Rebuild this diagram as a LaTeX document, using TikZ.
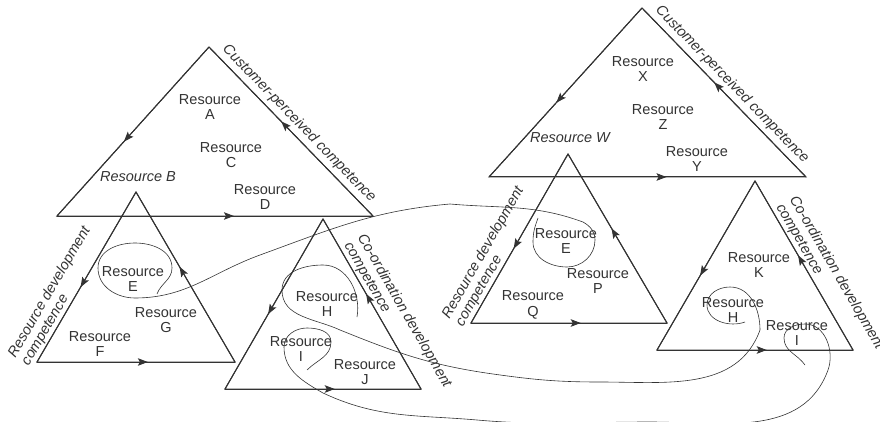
\documentclass[tikz,border=0pt]{standalone}
\usepackage{fontspec}
\setmainfont{Liberation Sans}
\usetikzlibrary{arrows.meta}
\usetikzlibrary{decorations.markings}

\definecolor{ink}{HTML}{333333}

\begin{document}
\begin{tikzpicture}[x=1pt,y=-1pt,
        color=ink, line width=1pt,
        every node/.style = {text=ink, font=\fontsize{14.5}{15.5}\selectfont},
        res/.style = {align=center, inner sep=0pt},
        resit/.style = {res, font=\fontsize{14.5}{15.5}\selectfont\itshape},
        sidelabel/.style = {sloped, align=left, inner sep=1.5pt,
            font=\fontsize{14.5}{15.5}\selectfont\itshape},
        flow/.style = {postaction={decorate}, decoration={markings,
            mark=at position 0.56 with {\arrow{Stealth[length=10pt,width=7.5pt,inset=2pt]}}}},
        link/.style = {line width=0.6pt}]
    \useasboundingbox (0,0) rectangle (880,422);
    % left set
    \coordinate (cp1-top) at (209,47);
    \coordinate (cp1-bl) at (57,216);
    \coordinate (cp1-br) at (373,216);
    \coordinate (rd1-top) at (136,192);
    \coordinate (rd1-bl) at (37,362);
    \coordinate (rd1-br) at (235,362);
    \coordinate (cd1-top) at (323,219);
    \coordinate (cd1-bl) at (225,389);
    \coordinate (cd1-br) at (421,389);
    % right set
    \coordinate (cp2-top) at (642,8);
    \coordinate (cp2-bl) at (489,177);
    \coordinate (cp2-br) at (806,177);
    \coordinate (rd2-top) at (568,154);
    \coordinate (rd2-bl) at (471,323);
    \coordinate (rd2-br) at (667,323);
    \coordinate (cd2-top) at (755,181);
    \coordinate (cd2-bl) at (657,350);
    \coordinate (cd2-br) at (853,350);

    \foreach \t in {cp1,rd1,cd1,cp2,rd2,cd2} {
        \draw (\t-top) -- (\t-bl) -- (\t-br) -- cycle;
        \draw[flow] (\t-top) -- (\t-bl);
        \draw[flow] (\t-bl) -- (\t-br);
        \draw[flow] (\t-br) -- (\t-top);
    }

    \node[res] (cp1-a) at (210,107) {Resource\\A};
    \node[res] (cp1-c) at (231,155) {Resource\\C};
    \node[resit] (cp1-b) at (138,177) {Resource B};
    \node[res] (cp1-d) at (265,197) {Resource\\D};
    \node[res] (rd1-e) at (133,279) {Resource\\E};
    \node[res] (rd1-g) at (166,320) {Resource\\G};
    \node[res] (rd1-f) at (100,344) {Resource\\F};
    \node[res] (cd1-h) at (327,304) {Resource\\H};
    \node[res] (cd1-i) at (301,349) {Resource\\I};
    \node[res] (cd1-j) at (365,372) {Resource\\J};

    \node[res] (cp2-x) at (643,69) {Resource\\X};
    \node[res] (cp2-z) at (663,117) {Resource\\Z};
    \node[resit] (cp2-w) at (570,138) {Resource W};
    \node[res] (cp2-y) at (697,159) {Resource\\Y};
    \node[res] (rd2-e) at (566,241) {Resource\\E};
    \node[res] (rd2-p) at (598,281) {Resource\\P};
    \node[res] (rd2-q) at (533,305) {Resource\\Q};
    \node[res] (cd2-k) at (759,265) {Resource\\K};
    \node[res] (cd2-h) at (733,310) {Resource\\H};
    \node[res] (cd2-i) at (797,333) {Resource\\I};

    \foreach \s in {1,2} {
        \path (cp\s-top) -- (cp\s-br) node[sidelabel, midway, above, inner sep=4pt]
            {Customer-perceived competence};
        \path (rd\s-bl) -- (rd\s-top) node[sidelabel, pos=-0.05, anchor=south west]
            {Resource development\\competence};
        \path (cd\s-top) -- (cd\s-br) node[sidelabel, pos=0.16, anchor=south west]
            {Co-ordination development\\competence};
    }

    \coordinate (e1-in) at (157,294);
    \coordinate (e2-in) at (538,218);
    \coordinate (h1-in) at (357,317);
    \coordinate (h2-in) at (745,322);
    \coordinate (i1-in) at (307,370);
    \coordinate (i2-in) at (805,365);

    \draw[link] (e1-in) to[out=70,in=270] (172,268) to[out=90,in=0] (135,243)
        to[out=180,in=90] (98,268) to[out=270,in=180] (135,298)
        to[out=0,in=200] (260,255) to[out=20,in=185] (450,204)
        to[out=-5,in=160] (583,222) to[out=-30,in=90] (595,240)
        to[out=270,in=0] (567,267) to[out=180,in=270] (533,242)
        to[out=90,in=250] (e2-in);
    \draw[link] (h1-in) to[out=80,in=0] (323,265) to[out=180,in=90] (282,290)
        to[out=270,in=155] (340,330) to[out=-22,in=172] (493,374)
        to[out=-8,in=180] (600,382) to[out=0,in=250] (760,330)
        to[out=90,in=0] (730,287) to[out=180,in=90] (707,305)
        to[out=270,in=200] (h2-in);
    \draw[link] (i1-in) to[out=45,in=270] (331,342) to[out=90,in=0] (307,328)
        to[out=180,in=90] (284,347) to[out=270,in=150] (323,393)
        to[out=-25,in=175] (477,420) to[out=-5,in=180] (650,422)
        to[out=0,in=250] (828,370) to[out=70,in=0] (805,324)
        to[out=180,in=90] (784,338) to[out=270,in=125] (i2-in);
\end{tikzpicture}
\end{document}
